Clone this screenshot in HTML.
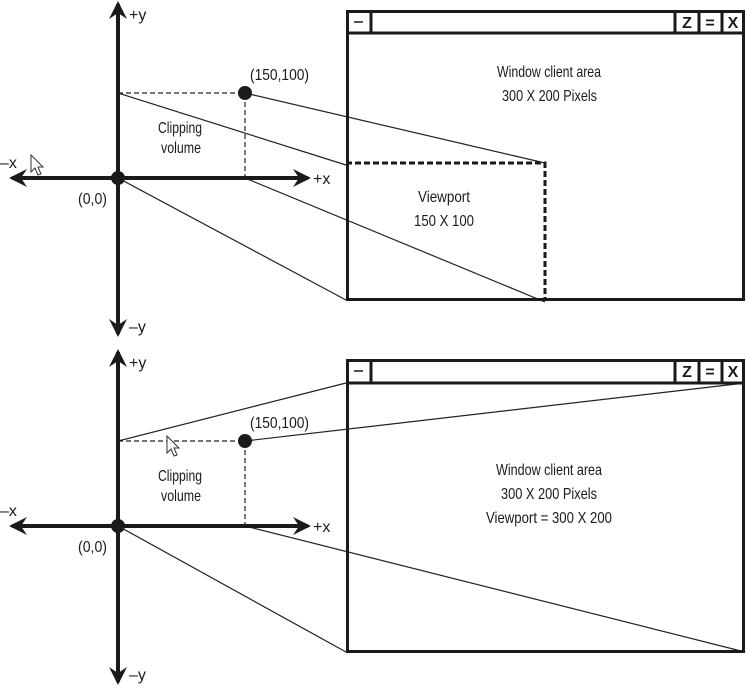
<!DOCTYPE html>
<html><head><meta charset="utf-8"><style>
html,body{margin:0;padding:0;background:#fff;}
svg{display:block;}
text{font-family:"Liberation Sans Narrow","Liberation Sans",sans-serif;font-size:16px;fill:#1a1a1a;}
</style></head><body>
<svg width="746" height="689" viewBox="0 0 746 689" xmlns="http://www.w3.org/2000/svg">
<defs>
<marker id="ah" viewBox="0 0 12 12" refX="10" refY="6" markerWidth="5" markerHeight="4.5" orient="auto-start-reverse" markerUnits="strokeWidth"><path d="M0,0 L12,6 L0,12 L4,6 Z" fill="#1a1a1a"/></marker>
</defs>

<!-- TOP PANEL -->
<g>
<line x1="118" y1="93" x2="346" y2="165" stroke="#222" stroke-width="1.2"/>
<line x1="245" y1="93" x2="545" y2="163" stroke="#222" stroke-width="1.2"/>
<line x1="118" y1="178" x2="346" y2="300" stroke="#222" stroke-width="1.2"/>
<line x1="245" y1="178" x2="545" y2="302" stroke="#222" stroke-width="1.2"/>
<line x1="118" y1="334" x2="118" y2="4" stroke="#1a1a1a" stroke-width="4" marker-start="url(#ah)" marker-end="url(#ah)"/>
<line x1="12" y1="178" x2="308" y2="178" stroke="#1a1a1a" stroke-width="4" marker-start="url(#ah)" marker-end="url(#ah)"/>
<path d="M118,93 H245 V178" fill="none" stroke="#222" stroke-width="1.2" stroke-dasharray="5,3"/>
<circle cx="118" cy="178" r="7" fill="#1a1a1a"/>
<circle cx="245" cy="93" r="7" fill="#1a1a1a"/>
<text x="129" y="20">+y</text>
<text x="129" y="332">–y</text>
<text x="0" y="168">–x</text>
<text x="313" y="184">+x</text>
<text x="78" y="204" textLength="29" lengthAdjust="spacingAndGlyphs">(0,0)</text>
<text x="250" y="80" textLength="59" lengthAdjust="spacingAndGlyphs">(150,100)</text>
<text x="158" y="133" textLength="44" lengthAdjust="spacingAndGlyphs">Clipping</text>
<text x="161" y="153" textLength="40" lengthAdjust="spacingAndGlyphs">volume</text>
<path d="M31,155 L31,172 L35,168 L38,175 L41,174 L38,167 L43,167 Z" fill="#fff" stroke="#333" stroke-width="1"/>
<g>
<rect x="347.5" y="11.5" width="396" height="288" fill="none" stroke="#1a1a1a" stroke-width="3"/>
<line x1="346" y1="33" x2="745" y2="33" stroke="#1a1a1a" stroke-width="3"/>
<line x1="371" y1="11" x2="371" y2="33" stroke="#1a1a1a" stroke-width="3"/>
<line x1="675" y1="11" x2="675" y2="33" stroke="#1a1a1a" stroke-width="3"/>
<line x1="699" y1="11" x2="699" y2="33" stroke="#1a1a1a" stroke-width="3"/>
<line x1="722" y1="11" x2="722" y2="33" stroke="#1a1a1a" stroke-width="3"/>
<line x1="354" y1="22" x2="363" y2="22" stroke="#1a1a1a" stroke-width="1.5"/>
<text x="687" y="28" text-anchor="middle" font-size="13" font-weight="bold">Z</text>
<text x="710" y="28" text-anchor="middle" font-size="13" font-weight="bold">=</text>
<text x="733" y="28" text-anchor="middle" font-size="13" font-weight="bold">X</text>
<path d="M346,163 H545 V300" fill="none" stroke="#1a1a1a" stroke-width="3" stroke-dasharray="6,3"/>
<text x="497" y="77" textLength="104" lengthAdjust="spacingAndGlyphs">Window client area</text>
<text x="502" y="101" textLength="95" lengthAdjust="spacingAndGlyphs">300 X 200 Pixels</text>
<text x="418" y="202" textLength="52" lengthAdjust="spacingAndGlyphs">Viewport</text>
<text x="414" y="226" textLength="60" lengthAdjust="spacingAndGlyphs">150 X 100</text>
</g>
</g>

<!-- BOTTOM PANEL -->
<g>
<line x1="118" y1="441" x2="346" y2="383" stroke="#222" stroke-width="1.2"/>
<line x1="245" y1="441" x2="745" y2="383" stroke="#222" stroke-width="1.2"/>
<line x1="118" y1="526" x2="346" y2="652" stroke="#222" stroke-width="1.2"/>
<line x1="245" y1="526" x2="745" y2="652" stroke="#222" stroke-width="1.2"/>
<line x1="118" y1="682" x2="118" y2="352" stroke="#1a1a1a" stroke-width="4" marker-start="url(#ah)" marker-end="url(#ah)"/>
<line x1="12" y1="526" x2="308" y2="526" stroke="#1a1a1a" stroke-width="4" marker-start="url(#ah)" marker-end="url(#ah)"/>
<path d="M118,441 H245 V526" fill="none" stroke="#222" stroke-width="1.2" stroke-dasharray="5,3"/>
<circle cx="118" cy="526" r="7" fill="#1a1a1a"/>
<circle cx="245" cy="441" r="7" fill="#1a1a1a"/>
<text x="129" y="368">+y</text>
<text x="129" y="680">–y</text>
<text x="0" y="516">–x</text>
<text x="313" y="532">+x</text>
<text x="78" y="552" textLength="29" lengthAdjust="spacingAndGlyphs">(0,0)</text>
<text x="250" y="428" textLength="59" lengthAdjust="spacingAndGlyphs">(150,100)</text>
<text x="158" y="481" textLength="44" lengthAdjust="spacingAndGlyphs">Clipping</text>
<text x="161" y="501" textLength="40" lengthAdjust="spacingAndGlyphs">volume</text>
<path d="M167,436 L167,453 L171,449 L174,456 L177,455 L174,448 L179,448 Z" fill="#fff" stroke="#333" stroke-width="1"/>
<g>
<rect x="347.5" y="360.5" width="396" height="291" fill="none" stroke="#1a1a1a" stroke-width="3"/>
<line x1="346" y1="383" x2="745" y2="383" stroke="#1a1a1a" stroke-width="3"/>
<line x1="371" y1="360" x2="371" y2="383" stroke="#1a1a1a" stroke-width="3"/>
<line x1="675" y1="360" x2="675" y2="383" stroke="#1a1a1a" stroke-width="3"/>
<line x1="699" y1="360" x2="699" y2="383" stroke="#1a1a1a" stroke-width="3"/>
<line x1="722" y1="360" x2="722" y2="383" stroke="#1a1a1a" stroke-width="3"/>
<line x1="354" y1="371" x2="363" y2="371" stroke="#1a1a1a" stroke-width="1.5"/>
<text x="687" y="377" text-anchor="middle" font-size="13" font-weight="bold">Z</text>
<text x="710" y="377" text-anchor="middle" font-size="13" font-weight="bold">=</text>
<text x="733" y="377" text-anchor="middle" font-size="13" font-weight="bold">X</text>
<text x="496" y="475" textLength="106" lengthAdjust="spacingAndGlyphs">Window client area</text>
<text x="501" y="499" textLength="96" lengthAdjust="spacingAndGlyphs">300 X 200 Pixels</text>
<text x="486" y="523" textLength="126" lengthAdjust="spacingAndGlyphs">Viewport = 300 X 200</text>
</g>
</g>
</svg>
</body></html>
